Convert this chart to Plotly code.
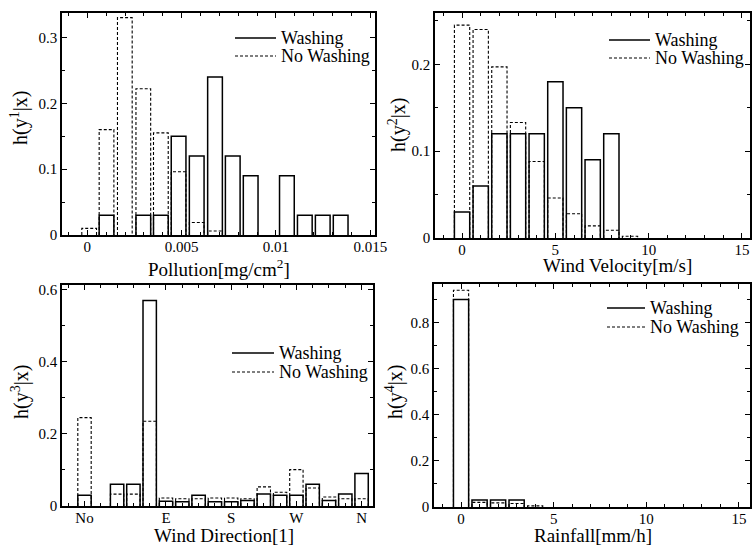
import plotly.graph_objects as go

# ---------------- data ----------------
pollution_bins = [0.0001, 0.00102, 0.00199, 0.00297, 0.0039, 0.00484, 0.0058, 0.00677,
                  0.00771, 0.00866, 0.0096, 0.01058, 0.01153, 0.01248, 0.01343]
pollution_wash = [0, 0.03, 0, 0.03, 0.03, 0.15, 0.12, 0.24, 0.12, 0.09, 0, 0.09, 0.03, 0.03, 0.03]
pollution_nowash = [0.01, 0.16, 0.33, 0.222, 0.155, 0.096, 0.019, 0.006, 0, 0, 0, 0, 0, 0, 0]

velocity_bins = [0, 1, 2, 3, 4, 5, 6, 7, 8, 9]
velocity_wash = [0.03, 0.06, 0.12, 0.12, 0.12, 0.18, 0.15, 0.09, 0.12, 0]
velocity_nowash = [0.245, 0.24, 0.197, 0.133, 0.088, 0.046, 0.028, 0.014, 0.009, 0.002]

direction_bins = list(range(18))
direction_wash = [0.03, 0, 0.06, 0.06, 0.57, 0.013, 0.012, 0.03, 0.012, 0.012, 0.015,
                  0.033, 0.03, 0.03, 0.06, 0.015, 0.033, 0.09]
direction_nowash = [0.245, 0, 0.033, 0.033, 0.235, 0.022, 0.02, 0.02, 0.022, 0.022, 0.02,
                    0.053, 0.038, 0.101, 0.05, 0.025, 0.02, 0.02]
direction_tickvals = [0, 5, 9, 13, 17]
direction_ticktext = ["No", "E", "S", "W", "N"]

rain_bins = [0, 1, 2, 3, 4]
rain_wash = [0.9, 0.03, 0.03, 0.03, 0]
rain_nowash = [0.94, 0.02, 0.018, 0.015, 0.005]

series_names = ["Washing", "No Washing"]
x_titles = ["Pollution[mg/cm<sup>2</sup>]", "Wind Velocity[m/s]", "Wind Direction[1]", "Rainfall[mm/h]"]
y_titles = ["h(y<sup>1</sup>|x)", "h(y<sup>2</sup>|x)", "h(y<sup>3</sup>|x)", "h(y<sup>4</sup>|x)"]

# ---------------- layout helpers ----------------
W, H = 754, 547
FONT = "Liberation Serif"
panels = [  # pixel boxes of plot areas
    dict(px=(62, 375), py=(13, 235), xr=[-0.00134, 0.01525], yr=[0, 0.337],
         xd=0.005, xm=0.001, yd=0.1, ym=0.05, bw=0.00078),
    dict(px=(435, 750), py=(13, 238), xr=[-1.45, 15.43], yr=[0, 0.259],
         xd=5, xm=1, yd=0.1, ym=0.05, bw=0.82),
    dict(px=(62, 373), py=(285, 506), xr=[-1.38, 17.7], yr=[0, 0.613],
         xd=None, xm=1, yd=0.2, ym=0.1, bw=0.82),
    dict(px=(434, 750), py=(284, 507), xr=[-1.46, 15.6], yr=[0, 0.967],
         xd=5, xm=1, yd=0.2, ym=0.1, bw=0.82),
]
data = [
    (pollution_bins, pollution_wash, pollution_nowash),
    (velocity_bins, velocity_wash, velocity_nowash),
    (direction_bins, direction_wash, direction_nowash),
    (rain_bins, rain_wash, rain_nowash),
]
# legend: line x0, x1, text x, row1 y, row2 y (pixels)
legends = [(235, 276, 279, 38, 56), (609, 650, 653, 40, 58),
           (232, 274, 277, 353, 372), (607, 645, 648, 308, 327)]
xtitle_pos = [(218.5, 268), (617, 265), (224, 535), (593, 535)]
ytitle_pos = [(20, 118), (397, 125), (20, 392), (394, 392)]


def px(X):
    return X / W


def py(Y):
    return 1 - Y / H


def outline(centers, values, width):
    xs, ys = [], []
    for c, v in zip(centers, values):
        if v <= 0:
            continue
        xs += [c - width / 2, c - width / 2, c + width / 2, c + width / 2, None]
        ys += [0, v, v, 0, None]
    return xs, ys


fig = go.Figure()
layout = dict(width=W, height=H, margin=dict(l=0, r=0, t=0, b=0),
              paper_bgcolor="white", plot_bgcolor="white", showlegend=False,
              font=dict(family=FONT, size=15, color="black"))
annotations, shapes = [], []

for i, (p, (bins, wash, nowash)) in enumerate(zip(panels, data)):
    n = "" if i == 0 else str(i + 1)
    xa, ya = "x" + n, "y" + n
    xs, ys = outline(bins, nowash, p["bw"])
    fig.add_trace(go.Scatter(x=xs, y=ys, mode="lines", xaxis=xa, yaxis=ya,
                             line=dict(color="black", width=1.1, dash="3px,2px"),
                             name=series_names[1], hoverinfo="skip"))
    xs, ys = outline(bins, wash, p["bw"])
    fig.add_trace(go.Scatter(x=xs, y=ys, mode="lines", xaxis=xa, yaxis=ya,
                             line=dict(color="black", width=1.5),
                             name=series_names[0], hoverinfo="skip"))
    common = dict(showline=True, linecolor="black", linewidth=1.6, mirror="allticks",
                  ticks="inside", ticklen=5, tickwidth=1.2, tickcolor="black",
                  showgrid=False, zeroline=False, tickfont=dict(family=FONT, size=15),
                  automargin=False, fixedrange=True)
    xaxis = dict(common, domain=[px(p["px"][0]), px(p["px"][1])], range=p["xr"],
                 anchor=ya, ticklabelstandoff=-3,
                 minor=dict(ticks="inside", dtick=p["xm"], tick0=0, ticklen=3,
                            tickwidth=1, tickcolor="black", showgrid=False))
    if p["xd"] is None:
        xaxis.update(tickmode="array", tickvals=direction_tickvals, ticktext=direction_ticktext)
    else:
        xaxis.update(dtick=p["xd"], tick0=0)
    yaxis = dict(common, domain=[py(p["py"][1]), py(p["py"][0])], range=p["yr"],
                 anchor=xa, dtick=p["yd"], tick0=0,
                 minor=dict(ticks="inside", dtick=p["ym"], tick0=0, ticklen=3,
                            tickwidth=1, tickcolor="black", showgrid=False))
    layout["xaxis" + n] = xaxis
    layout["yaxis" + n] = yaxis

    # axis titles
    tx, ty = xtitle_pos[i]
    annotations.append(dict(text=x_titles[i], x=px(tx), y=py(ty), xref="paper", yref="paper",
                            xanchor="center", yanchor="middle", showarrow=False,
                            font=dict(family=FONT, size=19)))
    tx, ty = ytitle_pos[i]
    annotations.append(dict(text=y_titles[i], x=px(tx), y=py(ty), xref="paper", yref="paper",
                            xanchor="center", yanchor="middle", showarrow=False, textangle=-90,
                            font=dict(family=FONT, size=20)))
    # legend
    lx0, lx1, ltx, r1, r2 = legends[i]
    for (ry, dash, wdt, name) in [(r1, "solid", 1.5, series_names[0]),
                                  (r2, "3px,2px", 1.1, series_names[1])]:
        shapes.append(dict(type="line", xref="paper", yref="paper", x0=px(lx0), x1=px(lx1),
                           y0=py(ry), y1=py(ry), line=dict(color="black", width=wdt, dash=dash)))
        annotations.append(dict(text=name, x=px(ltx), y=py(ry), xref="paper", yref="paper",
                                xanchor="left", yanchor="middle", showarrow=False,
                                font=dict(family=FONT, size=18)))

layout["annotations"] = annotations
layout["shapes"] = shapes
fig.update_layout(**layout)
fig.write_html(
    "out.html",
    config={"displayModeBar": False},
    post_script="document.body.style.margin='0px';"
                "document.body.style.overflow='hidden';"
                "document.documentElement.style.overflow='hidden';",
)
